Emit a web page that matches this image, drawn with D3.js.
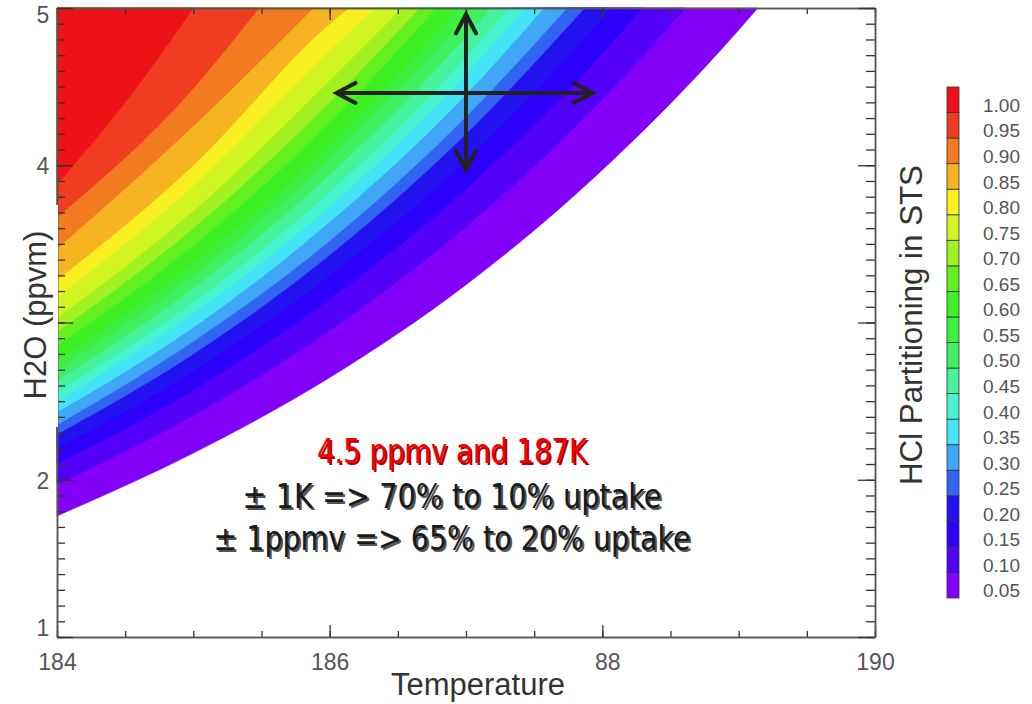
<!DOCTYPE html>
<html>
  <head>
    <meta charset="utf-8">
    <title>HCl Partitioning in STS</title>
    <script src="https://cdn.jsdelivr.net/npm/d3@7/dist/d3.min.js"></script>
    <style>
      body { margin: 0; background: #fff; }
      .axis path { stroke: #555; stroke-width: 1.5; }
      .axis line { stroke: #333; stroke-width: 1.3; }
      .axis text {
        font-family: "Liberation Sans", Arial, sans-serif;
        font-size: 23px;
        fill: #555;
      }
      .axis__label {
        font-family: "Liberation Sans", Arial, sans-serif;
        font-size: 31px;
        fill: #333;
      }
      .legend text {
        font-family: "Liberation Sans", Arial, sans-serif;
        font-size: 19px;
        fill: #555;
      }
      .note {
        font-family: "DejaVu Sans", sans-serif;
        font-size: 33px;
        text-anchor: middle;
      }
    </style>
  </head>
  <body>
    <svg width="1032" height="704"></svg>
    <script>
      // contour levels of HCl partitioning and their fill colours
      const levels = [0.05, 0.10, 0.15, 0.20, 0.25, 0.30, 0.35, 0.40, 0.45, 0.50,
                      0.55, 0.60, 0.65, 0.70, 0.75, 0.80, 0.85, 0.90, 0.95, 1.00];
      const levelColors = ["#8200f8", "#5200f8", "#2c00fa", "#2212f0", "#3264f2",
                           "#40a6f6", "#44e4f6", "#48f4d0", "#46f29c", "#40f060",
                           "#3cf040", "#3cf024", "#62f020", "#a2f222", "#d2f422",
                           "#f8f020", "#f6b422", "#f27a20", "#f03c20", "#ee1218"];

      // [temperature, H2O] points where the partitioning rises past each level
      const boundaries = [
        [[184, 1.77], [185, 2.17], [186, 2.65], [187, 3.24], [188, 3.97], [189, 4.86], [189.14, 5]],
        [[184, 1.97], [185, 2.41], [186, 2.95], [187, 3.61], [188, 4.42], [188.61, 5]],
        [[184, 2.10], [185, 2.57], [186, 3.15], [187, 3.85], [188, 4.71], [188.29, 5]],
        [[184, 2.20], [185, 2.69], [186, 3.30], [187, 4.03], [188, 4.94], [188.06, 5]],
        [[184, 2.29], [185, 2.80], [186, 3.43], [187, 4.20], [187.87, 5]],
        [[184, 2.35], [185, 2.88], [186, 3.52], [187, 4.31], [187.74, 5]],
        [[184, 2.43], [185, 2.97], [186, 3.64], [187, 4.45], [187.57, 5]],
        [[184, 2.50], [185, 3.06], [186, 3.74], [187, 4.58], [187.43, 5]],
        [[184, 2.56], [185, 3.13], [186, 3.83], [187, 4.69], [187.31, 5]],
        [[184, 2.63], [185, 3.22], [186, 3.94], [187, 4.82], [187.18, 5]],
        [[184, 2.70], [185, 3.30], [186, 4.04], [187, 4.95], [187.05, 5]],
        [[184, 2.76], [185, 3.38], [186, 4.13], [186.94, 5]],
        [[184, 2.85], [185, 3.49], [186, 4.27], [186.78, 5]],
        [[184, 2.94], [185, 3.60], [186, 4.40], [186.66, 5]],
        [[184, 3.03], [185, 3.71], [186, 4.54], [186.53, 5]],
        [[184, 3.16], [185, 3.87], [186, 4.73], [186.33, 5]],
        [[184, 3.27], [185, 4.00], [186, 4.90], [186.14, 5]],
        [[184, 3.47], [185, 4.25], [185.88, 5]],
        [[184, 3.67], [185, 4.49], [185.48, 5]],
        [[184, 3.88], [184.5, 4.40], [185.0, 5]]
      ];

      const xMajorTicks = [184, 186, 188, 190];
      const xTickLabels = ["184", "186", "88", "190"];
      const yMajorTicks = [1, 2, 3, 4, 5];
      const yLabelTicks = [1, 2, 4, 5];

      // annotation arrows (K, ppmv) and notes
      const arrowT = [186.05, 187.93];
      const arrowH = 4.46;
      const arrowVT = 187;
      const arrowVH = [3.97, 4.96];
      const notes = [
        {text: "4.5 ppmv and 187K", color: "#f00000", shadow: "#a00", len: 270, y: 463},
        {text: "\u00b1 1K => 70% to 10% uptake", color: "#1a1a1a", shadow: "#555", len: 419, y: 508},
        {text: "\u00b1 1ppmv => 65% to 20% uptake", color: "#1a1a1a", shadow: "#555", len: 477, y: 550}
      ];

      const svg = d3.select("svg");
      const margin = {left: 57, right: 875, top: 8, bottom: 637};

      const x = d3.scaleLinear().domain([184, 190]).range([margin.left, margin.right]);
      const y = d3.scaleLinear().domain([1, 5]).range([margin.bottom, margin.top]);

      // filled bands: paint region above each boundary, lowest level first
      const area = d3.area()
        .x(d => x(d[0]))
        .y0(d => y(d[1]))
        .y1(y(5))
        .curve(d3.curveMonotoneX);

      svg.append("g")
        .selectAll("path")
        .data(boundaries)
        .enter().append("path")
          .attr("d", area)
          .attr("fill", (d, i) => levelColors[i])
          .attr("stroke", (d, i) => levelColors[i])
          .attr("stroke-width", 0.6);

      // axes: minor and major ticks pointing inward
      const xMinor = d3.range(184, 190.01, 0.5);
      const yMinor = d3.range(10, 51).map(d => d / 10);

      svg.append("g").attr("class", "axis")
        .attr("transform", `translate(0,${margin.bottom})`)
        .call(d3.axisBottom(x).tickValues(xMinor).tickSize(-6).tickSizeOuter(0).tickFormat(""));
      const xAxis = svg.append("g").attr("class", "axis")
        .attr("transform", `translate(0,${margin.bottom})`)
        .call(d3.axisBottom(x).tickValues(xMajorTicks).tickSize(-12).tickSizeOuter(0)
          .tickPadding(17).tickFormat((d, i) => xTickLabels[i]));
      xAxis.selectAll("text").attr("dx", d => d === 188 ? 5 : 0);

      svg.append("g").attr("class", "axis")
        .attr("transform", `translate(0,${margin.top})`)
        .call(d3.axisTop(x).tickValues(xMinor).tickSize(-6).tickSizeOuter(0).tickFormat(""));
      svg.append("g").attr("class", "axis")
        .attr("transform", `translate(0,${margin.top})`)
        .call(d3.axisTop(x).tickValues(xMajorTicks).tickSize(-12).tickSizeOuter(0).tickFormat(""))
        .select(".domain").attr("stroke", "#999");

      svg.append("g").attr("class", "axis")
        .attr("transform", `translate(${margin.left},0)`)
        .call(d3.axisLeft(y).tickValues(yMinor).tickSize(-8).tickSizeOuter(0).tickFormat(""));
      svg.append("g").attr("class", "axis")
        .attr("transform", `translate(${margin.left},0)`)
        .call(d3.axisLeft(y).tickValues(yMajorTicks).tickSize(-16).tickSizeOuter(0).tickFormat(""));

      svg.append("g").attr("class", "axis")
        .attr("transform", `translate(${margin.right},0)`)
        .call(d3.axisRight(y).tickValues(yMinor).tickSize(-9).tickSizeOuter(0).tickFormat(""));
      svg.append("g").attr("class", "axis")
        .attr("transform", `translate(${margin.right},0)`)
        .call(d3.axisRight(y).tickValues(yMajorTicks).tickSize(-17).tickSizeOuter(0).tickFormat(""));

      svg.append("g").attr("class", "axis")
        .selectAll("text")
        .data(yLabelTicks)
        .enter().append("text")
          .attr("x", 43)
          .attr("y", d => Math.min(Math.max(y(d) + 3, margin.top + 9), margin.bottom - 7))
          .attr("text-anchor", "middle")
          .attr("dominant-baseline", "middle")
          .text(d => d);

      // white patch behind the y title
      svg.append("rect")
        .attr("x", 0).attr("y", 205)
        .attr("width", margin.left + 1).attr("height", 222)
        .attr("fill", "#fff");

      svg.append("text")
        .attr("class", "axis__label")
        .attr("x", 478).attr("y", 695)
        .attr("text-anchor", "middle")
        .text("Temperature");

      svg.append("text")
        .attr("class", "axis__label")
        .attr("transform", "translate(46,315) rotate(-90)")
        .attr("text-anchor", "middle")
        .text("H2O (ppvm)");

      // colour bar
      const band = d3.scaleBand()
        .domain(levels.slice().reverse())
        .range([87, 598]);

      const legendG = svg.append("g").attr("class", "legend");
      legendG.selectAll("rect")
        .data(levels)
        .enter().append("rect")
          .attr("x", 947)
          .attr("y", d => band(d))
          .attr("width", 12)
          .attr("height", band.bandwidth())
          .attr("fill", (d, i) => levelColors[i])
          .attr("stroke", "#333")
          .attr("stroke-width", 0.8);
      legendG.selectAll("text")
        .data(levels)
        .enter().append("text")
          .attr("x", 983)
          .attr("y", d => band(d) + band.bandwidth() * 0.78)
          .attr("dominant-baseline", "middle")
          .text(d => d.toFixed(2));

      svg.append("text")
        .attr("class", "axis__label")
        .attr("transform", "translate(922,325) rotate(-90)")
        .attr("text-anchor", "middle")
        .attr("textLength", 320)
        .attr("lengthAdjust", "spacingAndGlyphs")
        .text("HCl Partitioning in STS");

      // arrows
      const arrowG = svg.append("g")
        .attr("stroke", "#222")
        .attr("stroke-width", 4)
        .attr("stroke-linecap", "round")
        .attr("fill", "none");
      const ax0 = x(arrowT[0]), ax1 = x(arrowT[1]), ay = y(arrowH);
      const vx = x(arrowVT), vy0 = y(arrowVH[1]), vy1 = y(arrowVH[0]);
      const head = 19, spread = 10;
      const arrowPath = d3.path();
      arrowPath.moveTo(ax0, ay); arrowPath.lineTo(ax1, ay);
      arrowPath.moveTo(ax0 + head, ay - spread); arrowPath.lineTo(ax0, ay); arrowPath.lineTo(ax0 + head, ay + spread);
      arrowPath.moveTo(ax1 - head, ay - spread); arrowPath.lineTo(ax1, ay); arrowPath.lineTo(ax1 - head, ay + spread);
      arrowPath.moveTo(vx, vy0); arrowPath.lineTo(vx, vy1);
      arrowPath.moveTo(vx - spread, vy0 + head); arrowPath.lineTo(vx, vy0); arrowPath.lineTo(vx + spread, vy0 + head);
      arrowPath.moveTo(vx - spread, vy1 - head); arrowPath.lineTo(vx, vy1); arrowPath.lineTo(vx + spread, vy1 - head);
      arrowG.append("path").attr("d", arrowPath.toString());

      // notes
      const noteG = svg.append("g");
      notes.forEach(n => {
        noteG.append("text")
          .attr("class", "note")
          .attr("x", 452 + 2).attr("y", n.y + 2)
          .attr("fill", n.shadow)
          .attr("textLength", n.len)
          .attr("lengthAdjust", "spacingAndGlyphs")
          .text(n.text);
        noteG.append("text")
          .attr("class", "note")
          .attr("x", 452).attr("y", n.y)
          .attr("fill", n.color)
          .attr("textLength", n.len)
          .attr("lengthAdjust", "spacingAndGlyphs")
          .text(n.text);
      });
    </script>
  </body>
</html>
